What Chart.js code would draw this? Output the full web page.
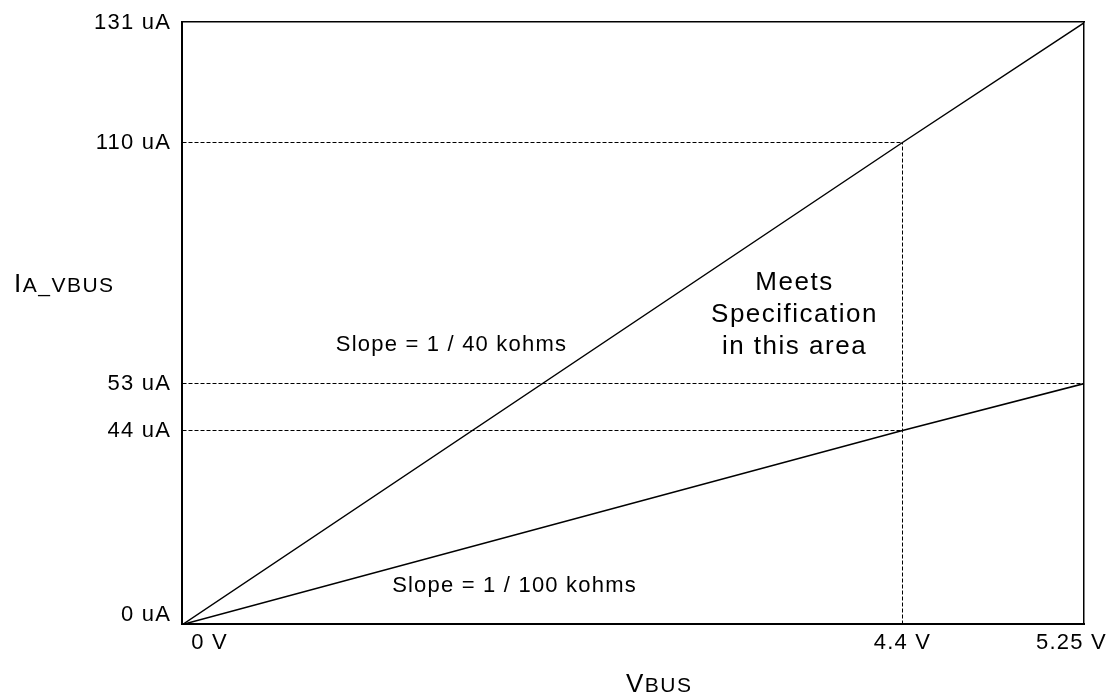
<!DOCTYPE html>
<html>
<head>
<meta charset="utf-8">
<title>IA_VBUS vs VBUS</title>
<script src="https://cdn.jsdelivr.net/npm/chart.js@4/dist/chart.umd.min.js"></script>
<style>
  html, body { margin: 0; padding: 0; background: #fff; }
  canvas { display: block; }
</style>
</head>
<body>
<canvas id="chart" width="1109" height="696"></canvas>
<script>
// values (V on x, uA on y)
const volts = [0, 4.4, 5.25];
const slope40k = [0, 110, 131];
const slope100k = [0, 44, 53];
const xTicks = [0, 4.4, 5.25];
const yTicks = [0, 44, 53, 110, 131];

// the drawing is not to scale: where each break value sits along its axis (0..1)
const axisBreaks = {
    x: { values: [0, 4.4, 5.25], fracs: [0, 0.7993, 1] },
    y: { values: [0, 44, 53, 110, 131], fracs: [0, 0.3206, 0.4003, 0.7993, 1] }
};
// small shifts of single tick labels, px
const labelNudge = {
    x: { 0: [27, 0], 5.25: [-13, 0] },
    y: { 0: [0, -10] }
};

const FONT = '"Liberation Sans", Arial, Helvetica, sans-serif';

function interp(v, from, to) {
    let i = 1;
    while (i < from.length - 1 && v > from[i]) i++;
    const t = (v - from[i - 1]) / (from[i] - from[i - 1]);
    return to[i - 1] + t * (to[i] - to[i - 1]);
}

// linear scale with piecewise mapping, so the ticks land where the sketch has them
class BrokenScale extends Chart.LinearScale {
    static id = 'broken';
    static defaults = Chart.LinearScale.defaults;

    getPixelForValue(value) {
        if (value === null || value === undefined) return NaN;
        const b = axisBreaks[this.id];
        const p = this.getPixelForDecimal(interp(value, b.values, b.fracs));
        // snap to pixel centre so the 1px dashed guides stay crisp
        return Math.floor(p) + 0.5;
    }

    getValueForPixel(pixel) {
        const b = axisBreaks[this.id];
        return interp(this.getDecimalForPixel(pixel), b.fracs, b.values);
    }

    _computeLabelItems(chartArea) {
        const items = super._computeLabelItems(chartArea);
        const nudge = labelNudge[this.id] || {};
        items.forEach((item, i) => {
            const n = this.ticks[i] && nudge[this.ticks[i].value];
            if (n) {
                item.options.translation[0] += n[0];
                item.options.translation[1] += n[1];
            }
        });
        return items;
    }
}
Chart.register(BrokenScale);

const solid = { borderColor: '#000', borderWidth: 1.5, pointRadius: 0, showLine: true, fill: false };
const guide = { borderColor: '#000', borderWidth: 1, borderDash: [4, 2], pointRadius: 0, showLine: true, fill: false };

const toPoints = (ys) => volts.map((v, i) => ({ x: v, y: ys[i] }));

// text inside the plot, anchored in data units
const notes = [
    { lines: ['Slope = 1 / 40 kohms'], x: 1.645, y: 60.8, size: 22, spacing: 1.2 },
    { lines: ['Slope = 1 / 100 kohms'], x: 2.029, y: 7.3, size: 22, spacing: 1.2 },
    { lines: ['Meets', 'Specification', 'in this area'], x: 3.741, y: 75.3, size: 26, spacing: 1.5, lineHeight: 32 }
];

function drawParts(ctx, parts, x, y) {
    parts.forEach(p => {
        ctx.font = p.size + 'px ' + FONT;
        ctx.fillText(p.text, x, y);
        x += ctx.measureText(p.text).width;
    });
}

const textPlugin = {
    id: 'sketchText',
    beforeUpdate(chart) {
        chart.ctx.letterSpacing = '1.2px';
    },
    beforeDraw(chart) {
        chart.ctx.letterSpacing = '1.2px';
    },
    afterDraw(chart) {
        const ctx = chart.ctx;
        const { x, y } = chart.scales;
        ctx.save();
        ctx.fillStyle = '#000';
        ctx.textAlign = 'center';
        ctx.textBaseline = 'alphabetic';
        notes.forEach(n => {
            ctx.font = n.size + 'px ' + FONT;
            ctx.letterSpacing = n.spacing + 'px';
            const px = x.getPixelForValue(n.x);
            const py = y.getPixelForValue(n.y);
            n.lines.forEach((line, i) => ctx.fillText(line, px, py + i * (n.lineHeight || 0)));
        });

        // axis titles: first letter big, the rest smaller
        ctx.textAlign = 'left';
        ctx.letterSpacing = '1.5px';
        drawParts(ctx, [{ text: 'I', size: 26 }, { text: 'A_VBUS', size: 21 }], 14, 292);
        drawParts(ctx, [{ text: 'V', size: 26 }, { text: 'BUS', size: 21 }], 626, 692);
        ctx.restore();
    }
};

const tickFont = { family: FONT, size: 22 };

new Chart(document.getElementById('chart'), {
    type: 'scatter',
    data: {
        datasets: [
            { ...solid, label: 'Slope = 1 / 40 kohms', data: toPoints(slope40k) },
            { ...solid, label: 'Slope = 1 / 100 kohms', data: toPoints(slope100k) },
            { ...guide, data: [{ x: 0, y: slope40k[1] }, { x: volts[1], y: slope40k[1] }] },
            { ...guide, data: [{ x: 0, y: slope100k[2] }, { x: volts[2], y: slope100k[2] }] },
            { ...guide, data: [{ x: 0, y: slope100k[1] }, { x: volts[1], y: slope100k[1] }] },
            { ...guide, data: [{ x: volts[1], y: 0 }, { x: volts[1], y: slope40k[1] }] }
        ]
    },
    options: {
        responsive: false,
        devicePixelRatio: 1,
        animation: false,
        layout: { padding: { left: 0, top: 22, right: 25, bottom: 0 } },
        plugins: {
            legend: { display: false },
            tooltip: { enabled: false }
        },
        scales: {
            x: {
                type: 'broken',
                min: 0,
                max: 5.25,
                grid: { display: false, drawTicks: false },
                border: { color: '#000', width: 2 },
                afterBuildTicks: s => { s.ticks = xTicks.map(v => ({ value: v })); },
                afterFit: s => { s.height = 72; s.paddingLeft = 0; s.paddingRight = 0; },
                ticks: {
                    font: tickFont, color: '#000', padding: 6,
                    maxRotation: 0, autoSkip: false,
                    callback: v => v + ' V'
                }
            },
            y: {
                type: 'broken',
                min: 0,
                max: 131,
                grid: { display: false, drawTicks: false },
                border: { color: '#000', width: 2 },
                afterBuildTicks: s => { s.ticks = yTicks.map(v => ({ value: v })); },
                afterFit: s => { s.width = 182; s.paddingTop = 0; s.paddingBottom = 0; },
                ticks: {
                    font: tickFont, color: '#000', padding: 11,
                    autoSkip: false,
                    callback: v => v + ' uA'
                }
            },
            top: {
                type: 'linear',
                position: 'top',
                grid: { display: false, drawTicks: false },
                border: { color: '#000', width: 1.5 },
                ticks: { display: false },
                afterFit: s => { s.height = 0; }
            },
            right: {
                type: 'linear',
                position: 'right',
                grid: { display: false, drawTicks: false },
                border: { color: '#000', width: 1.5 },
                ticks: { display: false },
                afterFit: s => { s.width = 0; }
            }
        }
    },
    plugins: [textPlugin]
});
</script>
</body>
</html>
